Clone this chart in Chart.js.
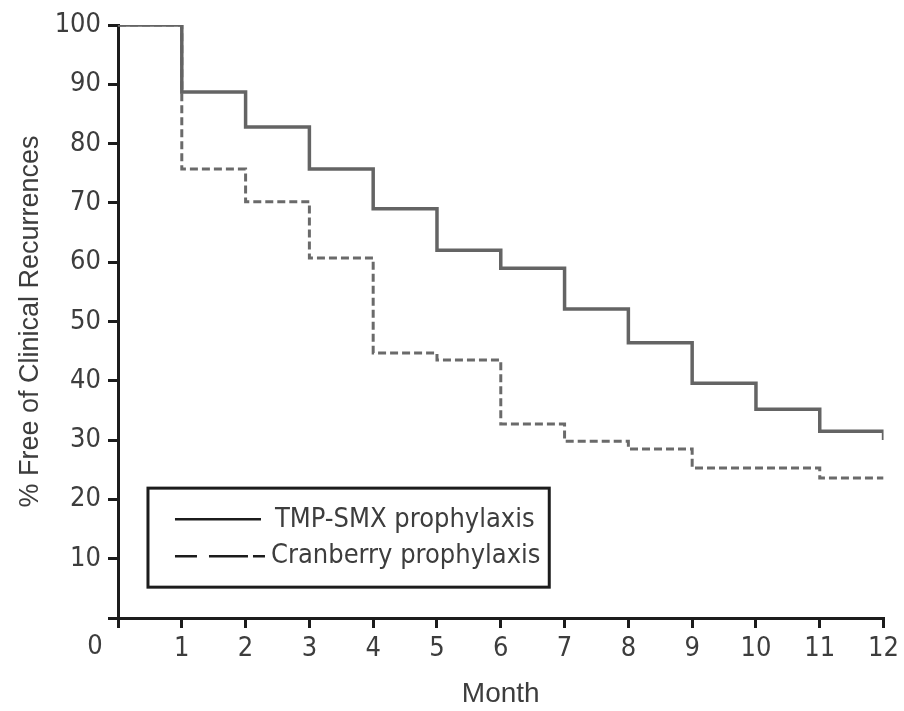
<!DOCTYPE html>
<html>
<head>
<meta charset="utf-8">
<script src="https://cdn.jsdelivr.net/npm/chart.js@4.4.1/dist/chart.umd.min.js"></script>
<style>
  html, body { margin: 0; padding: 0; background: #fff; }
  #km { display: block; }
</style>
</head>
<body>
<canvas id="km" width="904" height="711"></canvas>
<script>
// months on the x axis, level of each curve from that month until the next one
const months = [0, 1, 2, 3, 4, 5, 6, 7, 8, 9, 10, 11, 12];
const tmpSmx = [100, 88.7, 82.8, 75.7, 69.0, 62.0, 59.0, 52.1, 46.4, 39.6, 35.2, 31.5, 31.5];
const tmpSmxEnd = 30.0; // last drop at month 12
const cranberry = [100, 75.7, 70.2, 60.7, 44.7, 43.5, 32.7, 29.8, 28.5, 25.3, 25.3, 23.6, 23.6];
const seriesNames = ["TMP-SMX prophylaxis", "Cranberry prophylaxis"];
const yTicks = [0, 10, 20, 30, 40, 50, 60, 70, 80, 90, 100];

const NARROW = '"Liberation Sans Narrow", "DejaVu Sans Condensed", sans-serif';
const REGULAR = '"Liberation Sans", Arial, sans-serif';
const INK = "#1c1c1c";
const TEXT = "#3d3d3d";

var tmpPoints = months.map(function (m, i) { return {x: m, y: tmpSmx[i]}; });
tmpPoints.push({x: months[months.length - 1], y: tmpSmxEnd});
var cranPoints = months.map(function (m, i) { return {x: m, y: cranberry[i]}; });

//draws the boxed legend inside the plot and the shared "0" at the corner
const boxLegend = {
    id: "boxLegend",
    afterDraw: function (chart) {
        const c = chart.ctx;
        const xs = chart.scales.x, ys = chart.scales.y;
        const left = xs.getPixelForValue(0.47), right = xs.getPixelForValue(6.76);
        const top = ys.getPixelForValue(21.9), bottom = ys.getPixelForValue(5.2);
        c.save();
        c.fillStyle = "#fff";
        c.fillRect(left, top, right - left, bottom - top);
        c.strokeStyle = INK;
        c.lineWidth = 3;
        c.strokeRect(left, top, right - left, bottom - top);
        const rows = [top + 31, top + 68];
        const lx0 = left + 27, lx1 = left + 113;
        c.lineWidth = 2.5;
        c.beginPath();
        c.moveTo(lx0, rows[0]); c.lineTo(lx1, rows[0]);
        c.stroke();
        // legend dash is uneven in the source: short, long, short
        c.setLineDash([22, 12, 39, 5, 13, 100]);
        c.beginPath();
        c.moveTo(lx0, rows[1]); c.lineTo(lx1 + 4, rows[1]);
        c.stroke();
        c.setLineDash([]);
        c.fillStyle = TEXT;
        c.font = "27px " + NARROW;
        c.textBaseline = "middle";
        c.textAlign = "left";
        c.fillText(seriesNames[0], lx1 + 14, rows[0] + 1);
        c.fillText(seriesNames[1], lx1 + 10, rows[1]);
        // corner zero
        c.textAlign = "center";
        c.textBaseline = "top";
        c.fillText("0", xs.left - 23, ys.bottom + 15);
        c.restore();
    }
};

var ctx = document.getElementById("km").getContext("2d");
var kmChart = new Chart(ctx, {
    type: "line",
    data: {
        datasets: [
            {
                label: seriesNames[0],
                data: tmpPoints,
                stepped: true,
                borderColor: "#646464",
                borderWidth: 3.5,
                pointRadius: 0,
                fill: false
            },
            {
                label: seriesNames[1],
                data: cranPoints,
                stepped: true,
                borderColor: "#6a6a6a",
                borderWidth: 3,
                borderDash: [8, 4],
                pointRadius: 0,
                fill: false
            }
        ]
    },
    options: {
        responsive: false,
        animation: false,
        layout: {padding: {left: 0, right: 19, top: 25, bottom: 0}},
        plugins: {
            legend: {display: false},
            tooltip: {enabled: false}
        },
        scales: {
            x: {
                type: "linear",
                min: 0,
                max: 12,
                afterFit: function (s) { s.height = 93; },
                border: {color: INK, width: 3},
                grid: {drawOnChartArea: false, drawTicks: true, tickLength: 10, color: INK, lineWidth: 3},
                ticks: {
                    stepSize: 1,
                    padding: 5,
                    color: TEXT,
                    font: {family: NARROW, size: 27},
                    callback: function (v) { return v === 0 ? "" : v; }
                },
                title: {
                    display: true,
                    text: "Month",
                    color: TEXT,
                    font: {family: REGULAR, size: 28},
                    padding: {top: 0, bottom: 0}
                }
            },
            y: {
                min: 0,
                max: 100,
                afterFit: function (s) { s.width = 118; },
                afterBuildTicks: function (s) { s.ticks = yTicks.map(function (v) { return {value: v}; }); },
                border: {color: INK, width: 3},
                grid: {drawOnChartArea: false, drawTicks: true, tickLength: 10, color: INK, lineWidth: 3},
                ticks: {
                    padding: 7,
                    color: TEXT,
                    font: {family: NARROW, size: 27},
                    callback: function (v) { return v === 0 ? "" : v; }
                },
                title: {
                    display: true,
                    text: "% Free of Clinical Recurrences",
                    color: TEXT,
                    font: {family: REGULAR, size: 27},
                    padding: {top: 14, bottom: 0}
                }
            }
        }
    },
    plugins: [boxLegend]
});
</script>
</body>
</html>
